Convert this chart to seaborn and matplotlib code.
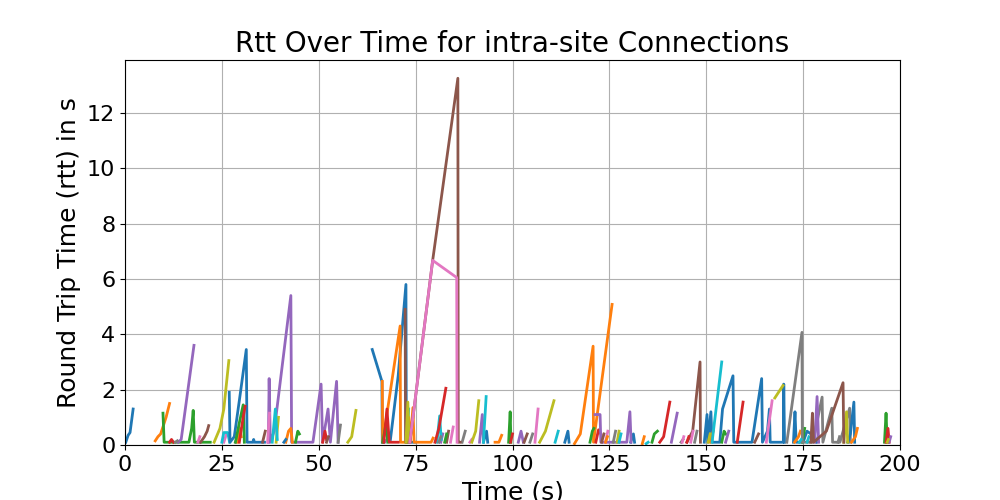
import pandas as pd
import matplotlib
matplotlib.use("Agg")
import matplotlib.pyplot as plt
import seaborn as sns

# each connection: sample times (s) and rtt (s); listed in colour-cycle order
conn_times = [
    # block 0
    [0.2, 0.8, 1.3, 2.1],
    [7.8, 8.5, 9.2, 9.9, 10.6, 11.5],
    [9.8, 10.1, 16.5, 17.2, 17.6, 17.9, 22.0],
    [11.5, 12.0, 12.5],
    [13.7, 14.5, 17.8],
    [19.5, 20.5, 21.2, 21.6],
    [25.5, 26.2],
    [28.5, 29.5],
    [23.0, 24.5, 25.5, 26.8],
    [25.0, 25.5, 26.5, 27.0],
    # block 1
    [26.9, 27.1, 28.2, 29.5, 31.3, 31.5, 33.0, 33.2, 33.4, 36.0],
    [29.0, 29.6, 30.0],
    [28.5, 29.5, 30.5, 30.8],
    [29.5, 30.5, 31.0],
    [37.0, 37.2, 37.5, 38.5, 42.8, 43.0, 48.5, 50.6, 51.0, 52.4, 53.0, 54.6, 55.0],
    [35.5, 36.2],
    [36.8, 37.3],
    [13.0, 13.5],
    [39.0, 39.6],
    [38.0, 38.8, 39.3],
    # block 2
    [63.8, 66.3, 66.4],
    [41.5, 42.2, 42.8, 43.2],
    [44.0, 44.6, 45.0],
    [51.0, 51.6, 52.0],
    [67.0, 67.6],
    [52.0, 52.5],
    [18.8, 19.3],
    [55.0, 55.6],
    [57.5, 58.5, 59.6],
    [72.8, 73.2],
    # block 3
    [68.5, 70.5, 72.5, 72.6, 75.0],
    [66.4, 66.5, 71.0, 71.1, 72.8, 73.2, 73.6, 74.3, 74.6, 79.0, 79.5],
    [66.5, 67.4, 67.8],
    [66.8, 67.6, 68.2, 70.5],
    [81.5, 82.0],
    [72.3, 72.4, 72.6],
    [89.0, 89.5],
    [87.0, 87.8],
    [72.5, 73.0, 73.3],
    [80.5, 81.2, 81.6],
    # block 4
    [92.5, 93.3, 93.6],
    [95.5, 96.5, 97.2],
    [99.0, 99.4, 99.6],
    [80.0, 81.0, 82.8],
    [91.5, 92.2, 92.5],
    [73.5, 79.4, 85.9, 86.0, 86.5],
    [73.5, 79.4, 85.6, 85.7],
    [81.0, 81.5],
    [89.5, 90.5, 91.3],
    [92.5, 93.2],
    # block 5
    [113.5, 114.3, 114.6],
    [116.0, 117.5, 120.8, 120.9, 125.7],
    [120.0, 120.6, 121.0],
    [99.5, 100.0],
    [101.5, 102.2, 102.8],
    [83.0, 83.5],
    [84.0, 84.7],
    [104.5, 105.2],
    [107.0, 108.5, 110.7],
    [111.0, 111.8],
    # block 6
    [130.5, 131.2, 131.5],
    [133.5, 134.0],
    [136.0, 136.6, 137.4],
    [121.5, 122.2, 122.8],
    [121.3, 122.6, 122.8, 129.5, 130.3, 130.6],
    [103.0, 103.8],
    [105.8, 106.6],
    [126.0, 126.6],
    [127.0, 127.5],
    [127.5, 128.0],
    # block 7
    [149.5, 150.2, 150.4, 151.2, 151.5, 153.5, 154.2, 156.9, 157.1, 161.8,
     164.3, 164.5, 165.8, 166.3, 166.5, 169.9, 170.0, 170.2],
    [151.0, 151.8],
    [154.0, 154.6, 155.0],
    [138.0, 139.0, 140.6],
    [141.0, 142.5],
    [123.0, 123.6],
    [124.0, 124.6],
    [147.0, 147.6],
    [150.5, 151.0],
    [151.5, 154.0],
    # block 8
    [172.5, 172.9, 173.2, 175.0, 176.0, 178.0, 178.5],
    [172.8, 173.8, 174.3],
    [174.8, 175.4],
    [158.0, 159.5],
    [155.0, 155.8],
    [145.0, 146.5, 148.4, 148.5],
    [146.0, 146.6],
    [170.8, 174.7, 174.8, 177.5, 179.9, 180.1, 182.4, 182.6, 184.5, 187.0, 187.2],
    [167.7, 169.8],
    [174.0, 174.5],
    # block 9
    [186.5, 187.2, 188.1, 188.3],
    [187.5, 188.5, 189.0],
    [196.0, 196.4, 196.7],
    [196.4, 196.9, 197.2],
    [178.0, 178.6, 179.0],
    [162.5, 163.5],
    [165.5, 167.0],
    [143.5, 144.0],
    [185.5, 186.2, 186.5],
    [176.0, 176.5],
    # block 10
    [41.0, 41.5],
    [124.0, 124.5],
    [82.5, 83.0],
    [145.0, 145.5],
    [197.2, 197.6],
    [177.0, 177.4, 177.7, 181.0, 185.3, 185.5],
    [143.8, 144.2],
    [184.0, 184.4],
    [196.7, 197.0],
    [134.5, 135.0],
]

conn_rtt = [
    # block 0
    [0.1, 0.35, 0.45, 1.3],
    [0.15, 0.3, 0.4, 0.7, 1.0, 1.5],
    [1.15, 0.1, 0.1, 0.6, 1.25, 0.1, 0.1],
    [0.1, 0.2, 0.1],
    [0.1, 0.2, 3.6],
    [0.1, 0.3, 0.5, 0.7],
    [0.1, 0.4],
    [0.1, 0.4],
    [0.1, 0.6, 1.3, 3.05],
    [0.1, 0.45, 0.45, 0.1],
    # block 1
    [1.9, 0.1, 0.3, 1.6, 3.45, 0.1, 0.1, 0.2, 0.1, 0.1],
    [0.1, 0.6, 0.3],
    [0.1, 0.8, 1.45, 0.1],
    [0.1, 1.0, 1.4],
    [0.1, 2.4, 0.1, 0.5, 5.4, 0.1, 0.1, 2.2, 0.1, 1.3, 0.1, 2.3, 0.1],
    [0.1, 0.5],
    [0.1, 1.15],
    [0.1, 0.15],
    [0.1, 1.0],
    [0.1, 1.3, 0.2],
    # block 2
    [3.45, 2.3, 0.1],
    [0.1, 0.5, 0.6, 0.1],
    [0.1, 0.5, 0.4],
    [0.1, 0.5, 0.2],
    [0.1, 0.2],
    [0.1, 0.3],
    [0.1, 0.3],
    [0.1, 0.72],
    [0.1, 0.3, 1.25],
    [0.1, 1.3],
    # block 3
    [0.2, 2.5, 5.8, 0.1, 0.1],
    [2.3, 0.1, 4.3, 0.1, 0.1, 1.0, 0.1, 1.35, 0.1, 0.1, 0.25],
    [0.1, 0.8, 0.1],
    [0.1, 1.3, 0.1, 0.1],
    [0.1, 0.4],
    [4.9, 0.1, 0.1],
    [0.1, 0.2],
    [0.1, 0.5],
    [0.1, 1.55, 0.1],
    [0.1, 1.05, 0.2],
    # block 4
    [0.1, 0.5, 0.1],
    [0.1, 0.1, 0.35],
    [0.1, 1.2, 0.1],
    [0.1, 0.6, 2.05],
    [0.1, 1.1, 0.2],
    [0.1, 6.67, 13.25, 0.1, 0.1],
    [0.1, 6.67, 6.05, 0.1],
    [0.1, 0.3],
    [0.1, 0.5, 1.6],
    [0.1, 1.75],
    # block 5
    [0.1, 0.5, 0.1],
    [0.05, 0.4, 3.57, 0.1, 5.08],
    [0.1, 0.5, 0.6],
    [0.1, 0.4],
    [0.1, 0.5, 0.1],
    [0.1, 0.5],
    [0.1, 0.65],
    [0.1, 0.4],
    [0.1, 0.5, 1.6],
    [0.1, 0.5],
    # block 6
    [0.1, 0.4, 0.1],
    [0.05, 0.3],
    [0.1, 0.4, 0.5],
    [0.1, 0.55, 0.4],
    [1.1, 1.1, 0.1, 0.1, 1.2, 0.1],
    [0.1, 0.4],
    [0.1, 1.3],
    [0.1, 0.5],
    [0.1, 0.5],
    [0.1, 0.4],
    # block 7
    [0.1, 1.1, 0.1, 1.2, 0.1, 0.1, 1.3, 2.5, 0.1, 0.1,
     2.4, 0.1, 0.5, 1.3, 0.1, 0.1, 2.2, 0.1],
    [0.1, 0.5],
    [0.1, 0.5, 0.4],
    [0.1, 0.3, 1.55],
    [0.1, 1.15],
    [0.1, 0.4],
    [0.1, 0.5],
    [0.1, 0.5],
    [0.1, 0.4],
    [0.1, 3.0],
    # block 8
    [0.1, 1.2, 0.1, 0.1, 0.5, 0.3, 0.1],
    [0.1, 0.3, 0.5],
    [0.1, 0.6],
    [0.1, 1.55],
    [0.1, 0.5],
    [0.1, 0.5, 3.0, 0.1],
    [0.1, 0.5],
    [0.1, 4.07, 0.1, 0.1, 1.73, 0.1, 1.33, 0.1, 0.1, 1.33, 0.1],
    [1.7, 2.15],
    [0.1, 0.2],
    # block 9
    [0.1, 0.4, 1.55, 0.1],
    [0.1, 0.3, 0.6],
    [0.1, 1.15, 0.1],
    [0.1, 0.6, 0.1],
    [0.1, 1.75, 0.1],
    [0.1, 0.4],
    [0.1, 1.6],
    [0.1, 0.2],
    [0.1, 1.2, 0.1],
    [0.1, 0.3],
    # block 10
    [0.1, 0.2],
    [0.1, 0.3],
    [0.1, 0.4],
    [0.1, 0.3],
    [0.1, 0.3],
    [0.1, 1.15, 0.1, 0.5, 2.25, 0.1],
    [0.1, 0.3],
    [0.1, 0.3],
    [0.1, 0.2],
    [0.05, 0.1],
]

# long-form table, one row per rtt sample
rows = []
for i, (ts, rs) in enumerate(zip(conn_times, conn_rtt)):
    for t, r in zip(ts, rs):
        rows.append({'conn': f'c{i:03d}', 'time': t, 'rtt': r})
df = pd.DataFrame(rows)
conn_order = [f'c{i:03d}' for i in range(len(conn_times))]

fig, ax = plt.subplots(figsize=(10, 5), dpi=100)
sns.lineplot(data=df, x='time', y='rtt', hue='conn', hue_order=conn_order,
             palette=sns.color_palette('tab10', len(conn_order)),
             estimator=None, sort=False, legend=False, linewidth=2, ax=ax)

ax.set_xlim(0, 200)
ax.set_ylim(bottom=0)
ax.grid(True)
ax.set_title('Rtt Over Time for intra-site Connections', fontsize=20)
ax.set_xlabel('Time (s)', fontsize=18)
ax.set_ylabel('Round Trip Time (rtt) in s', fontsize=18)
ax.tick_params(labelsize=16)

fig.savefig('out.png', dpi=100)
